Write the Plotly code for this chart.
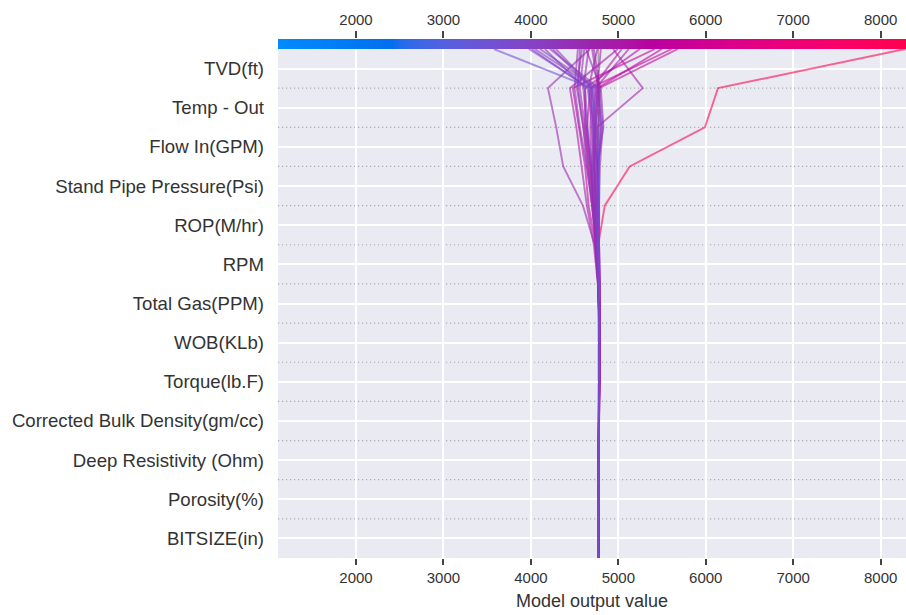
import numpy as np
import plotly.graph_objects as go

# ---------------- data ----------------
features = [
    "TVD(ft)", "Temp - Out", "Flow In(GPM)", "Stand Pipe Pressure(Psi)",
    "ROP(M/hr)", "RPM", "Total Gas(PPM)", "WOB(KLb)", "Torque(lb.F)",
    "Corrected Bulk Density(gm/cc)", "Deep Resistivity (Ohm)",
    "Porosity(%)", "BITSIZE(in)",
]
base_value = 4770
x_range = [1108, 8290]
tick_values = [2000, 3000, 4000, 5000, 6000, 7000, 8000]

# cumulative model output at each feature boundary, from the top
# (final prediction, after TVD) down to the bottom (base value)
path_01 = [4674, 4195, 4290, 4370, 4595, 4730, 4770, 4785, 4782, 4778, 4775, 4772, 4770, 4770]
path_02 = [4940, 5280, 4755, 4760, 4780, 4780, 4790, 4788, 4785, 4780, 4775, 4772, 4770, 4770]
path_03 = [3577, 4700, 4760, 4780, 4780, 4780, 4780, 4785, 4780, 4778, 4775, 4772, 4770, 4770]
path_04 = [3977, 4680, 4720, 4750, 4770, 4770, 4775, 4785, 4780, 4778, 4775, 4772, 4770, 4770]
path_05 = [4010, 4650, 4700, 4730, 4750, 4765, 4775, 4784, 4781, 4778, 4775, 4772, 4770, 4770]
path_06 = [4046, 4730, 4790, 4780, 4770, 4775, 4785, 4785, 4782, 4778, 4775, 4772, 4770, 4770]
path_07 = [4103, 4760, 4810, 4770, 4760, 4760, 4770, 4780, 4780, 4776, 4774, 4772, 4770, 4770]
path_08 = [4160, 4620, 4650, 4700, 4740, 4760, 4775, 4785, 4782, 4778, 4775, 4772, 4770, 4770]
path_09 = [4217, 4780, 4820, 4790, 4780, 4780, 4790, 4788, 4784, 4779, 4775, 4772, 4770, 4770]
path_10 = [4250, 4690, 4730, 4700, 4720, 4750, 4770, 4784, 4782, 4778, 4775, 4772, 4770, 4770]
path_11 = [4286, 4710, 4740, 4750, 4770, 4775, 4780, 4785, 4782, 4778, 4775, 4772, 4770, 4770]
path_12 = [4537, 4500, 4560, 4640, 4700, 4750, 4778, 4786, 4783, 4779, 4775, 4772, 4770, 4770]
path_13 = [4560, 4540, 4600, 4660, 4720, 4745, 4770, 4783, 4781, 4778, 4775, 4772, 4770, 4770]
path_14 = [4583, 4526, 4600, 4640, 4700, 4740, 4770, 4784, 4782, 4778, 4775, 4772, 4770, 4770]
path_15 = [4610, 4560, 4620, 4680, 4730, 4765, 4776, 4785, 4782, 4778, 4775, 4772, 4770, 4770]
path_16 = [4629, 4800, 4830, 4760, 4765, 4770, 4778, 4785, 4782, 4778, 4775, 4772, 4770, 4770]
path_17 = [4660, 4600, 4640, 4690, 4710, 4740, 4768, 4783, 4781, 4778, 4775, 4772, 4770, 4770]
path_18 = [4700, 4770, 4800, 4770, 4770, 4775, 4780, 4786, 4783, 4779, 4775, 4772, 4770, 4770]
path_19 = [4720, 4790, 4770, 4760, 4765, 4770, 4780, 4786, 4783, 4779, 4775, 4772, 4770, 4770]
path_20 = [4760, 4660, 4720, 4760, 4775, 4780, 4785, 4788, 4784, 4779, 4775, 4772, 4770, 4770]
path_21 = [4800, 4760, 4740, 4730, 4745, 4760, 4776, 4785, 4782, 4778, 4775, 4772, 4770, 4770]
path_22 = [4995, 4446, 4520, 4580, 4640, 4720, 4765, 4784, 4782, 4778, 4775, 4772, 4770, 4770]
path_23 = [5040, 4700, 4680, 4700, 4720, 4750, 4776, 4786, 4783, 4779, 4775, 4772, 4770, 4770]
path_24 = [5120, 4740, 4700, 4720, 4740, 4760, 4780, 4787, 4783, 4779, 4775, 4772, 4770, 4770]
path_25 = [5246, 4620, 4620, 4660, 4700, 4750, 4778, 4786, 4783, 4779, 4775, 4772, 4770, 4770]
path_26 = [5420, 4480, 4550, 4620, 4660, 4740, 4770, 4784, 4782, 4778, 4775, 4772, 4770, 4770]
path_27 = [5500, 4760, 4720, 4720, 4745, 4770, 4782, 4787, 4783, 4779, 4775, 4772, 4770, 4770]
path_28 = [5612, 4680, 4640, 4680, 4720, 4760, 4776, 4785, 4782, 4778, 4775, 4772, 4770, 4770]
path_29 = [5680, 4780, 4740, 4730, 4750, 4775, 4784, 4788, 4784, 4779, 4775, 4772, 4770, 4770]
path_30 = [8280, 6140, 5990, 5130, 4845, 4770, 4785, 4790, 4785, 4780, 4775, 4772, 4770, 4770]

paths = [path_01, path_02, path_03, path_04, path_05, path_06, path_07, path_08,
         path_09, path_10, path_11, path_12, path_13, path_14, path_15, path_16,
         path_17, path_18, path_19, path_20, path_21, path_22, path_23, path_24,
         path_25, path_26, path_27, path_28, path_29, path_30]


# ---------------- colour map (shap red_blue, built in LCh space) ----------------
def lch_to_rgb(l, c, h):
    a, b = c * np.cos(h), c * np.sin(h)
    fy = (l + 16.0) / 116.0
    fx = fy + a / 500.0
    fz = fy - b / 200.0

    def finv(t):
        return t ** 3 if t ** 3 > 0.008856 else (t - 16.0 / 116.0) / 7.787

    X, Y, Z = 0.95047 * finv(fx), 1.0 * finv(fy), 1.08883 * finv(fz)
    m = np.array([[3.2406, -1.5372, -0.4986],
                  [-0.9689, 1.8758, 0.0415],
                  [0.0557, -0.2040, 1.0570]])
    lin = m @ np.array([X, Y, Z])
    out = []
    for v in lin:
        v = 1.055 * v ** (1 / 2.4) - 0.055 if v > 0.0031308 else 12.92 * v
        out.append(min(max(v, 0.0), 1.0))
    return out


nsteps = 100
l_vals = list(np.linspace(54.0, 40.0, nsteps // 2)) + list(np.linspace(40.0, 54.0, nsteps // 2))
c_vals = np.linspace(70.0, 90.0, nsteps)
h_vals = np.linspace(4.6588, 0.35470565 + 2 * np.pi, nsteps)
cmap_rgb = []
for i, (l, c, h) in enumerate(zip(l_vals, c_vals, h_vals)):
    r, g, b = lch_to_rgb(l, c, h)
    if i == 0:
        r, g, b = 0.0, 0.5450980392156862, 0.9803921568627451
    if i == nsteps - 1:
        r, g, b = 1.0, 0.0, 0.3137254901960784
    cmap_rgb.append((int(round(r * 255)), int(round(g * 255)), int(round(b * 255))))
positions = np.linspace(0, 1, nsteps)
colorscale = [[float(p), "rgb(%d,%d,%d)" % c] for p, c in zip(positions, cmap_rgb)]


def color_for(v):
    t = (v - x_range[0]) / (x_range[1] - x_range[0])
    t = min(max(t, 0.0), 1.0)
    idx = t * (nsteps - 1)
    i0 = int(np.floor(idx))
    i1 = min(i0 + 1, nsteps - 1)
    f = idx - i0
    c = [cmap_rgb[i0][k] * (1 - f) + cmap_rgb[i1][k] * f for k in range(3)]
    return "rgb(%d,%d,%d)" % tuple(int(round(x)) for x in c)


# ---------------- figure ----------------
n_feat = len(features)
levels_y = list(range(n_feat, -1, -1))  # top boundary = n_feat, bottom = 0

fig = go.Figure()

for p in sorted(paths, key=lambda q: -q[0]):
    fig.add_trace(go.Scatter(
        x=p, y=levels_y, mode="lines",
        line=dict(color=color_for(p[0]), width=1.9),
        opacity=0.58, hoverinfo="skip", showlegend=False,
        xaxis="x", yaxis="y",
    ))

bar_x = np.linspace(x_range[0], x_range[1], 500)
fig.add_trace(go.Heatmap(
    x=bar_x, y=[0], z=[bar_x], colorscale=colorscale,
    zmin=x_range[0], zmax=x_range[1], showscale=False,
    hoverinfo="skip", xaxis="x2", yaxis="y2",
))

shapes = []
for i in range(1, n_feat):
    shapes.append(dict(type="line", xref="x", yref="y",
                       x0=x_range[0], x1=x_range[1], y0=i, y1=i,
                       line=dict(color="#a9a9b0", width=1.2, dash="1.2px,2.8px"),
                       layer="below"))
shapes.append(dict(type="line", xref="x", yref="y",
                   x0=base_value, x1=base_value, y0=0, y1=n_feat,
                   line=dict(color="#999999", width=1.2), layer="below"))

text_color = "#333333"
font_family = "Liberation Sans, Arial, sans-serif"
main_top = (558 - 49) / (558 - 39)

fig.update_layout(
    width=906, height=615,
    margin=dict(l=278, r=0, t=39, b=57),
    paper_bgcolor="white",
    plot_bgcolor="#eaeaf2",
    font=dict(family=font_family, color=text_color),
    shapes=shapes,
    xaxis=dict(
        domain=[0, 1], range=x_range, anchor="y",
        tickvals=tick_values, ticktext=[str(v) for v in tick_values],
        ticks="outside", ticklen=6, tickwidth=1.5, tickcolor="#444444",
        showgrid=True, gridcolor="white", gridwidth=1.6,
        zeroline=False, showline=False,
        tickfont=dict(size=15, color=text_color),
        title=dict(text="Model output value", font=dict(size=18, color=text_color), standoff=9),
    ),
    xaxis2=dict(
        domain=[0, 1], range=x_range, anchor="y2", side="top",
        tickvals=tick_values, ticktext=[str(v) for v in tick_values],
        ticks="outside", ticklen=7, tickwidth=1.5, tickcolor="#444444",
        showgrid=False, zeroline=False, showline=False,
        tickfont=dict(size=15, color=text_color),
    ),
    yaxis=dict(
        domain=[0, main_top], range=[0, n_feat], anchor="x",
        tickvals=[n_feat - i - 0.5 for i in range(n_feat)],
        ticktext=features,
        ticks="", ticklabelstandoff=13,
        showgrid=True, gridcolor="white", gridwidth=1.6,
        zeroline=False, showline=False,
        tickfont=dict(size=18.6, color=text_color),
    ),
    yaxis2=dict(
        domain=[main_top, 1], range=[-0.5, 0.5], anchor="x2",
        showticklabels=False, showgrid=False, zeroline=False, ticks="",
    ),
)

fig.write_html("out.html", config={"displayModeBar": False})
